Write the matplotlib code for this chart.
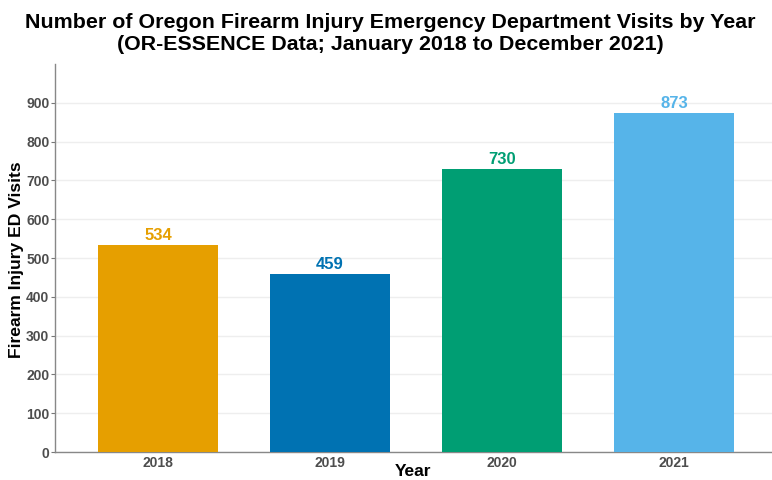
import matplotlib
matplotlib.use("Agg")
import matplotlib.pyplot as plt

years = ["2018", "2019", "2020", "2021"]
visits = [534, 459, 730, 873]
colors = ["#E69F00", "#0072B2", "#009E73", "#56B4E9"]
yticks = [0, 100, 200, 300, 400, 500, 600, 700, 800, 900]

plt.rcParams['font.family'] = ['Liberation Sans', 'DejaVu Sans']

fig = plt.figure(figsize=(7.72, 4.8), dpi=100)
ax = fig.add_axes([55/772, 28/480, 1 - 55/772, 388/480])

x = list(range(len(years)))
ax.bar(x, visits, width=0.7, color=colors, zorder=3)
for xi, v, c in zip(x, visits, colors):
    ax.annotate(str(v), (xi, v), xytext=(0, 1.5), textcoords="offset points",
                ha="center", va="bottom", fontsize=12, fontweight="bold", color=c)

ax.set_xlim(-0.6, 3.57)
ax.set_ylim(0, 1000)
ax.set_yticks(yticks)
ax.set_xticks(x)
ax.set_xticklabels(years)
ax.tick_params(axis="x", length=0, pad=3, labelsize=10, labelcolor="#4d4d4d")
ax.tick_params(axis="y", length=3, width=0.8, color="#777777", pad=1,
               labelsize=10, labelcolor="#4d4d4d")
for lab in ax.get_xticklabels() + ax.get_yticklabels():
    lab.set_fontweight("bold")

ax.grid(axis="y", color="#eeeeee", linewidth=1, zorder=0)
for s in ["top", "right"]:
    ax.spines[s].set_visible(False)
for s in ["left", "bottom"]:
    ax.spines[s].set_color("#888888")
    ax.spines[s].set_linewidth(1)

fig.text(390/772, 1 - 23/480, "Number of Oregon Firearm Injury Emergency Department Visits by Year",
         ha="center", va="center", fontsize=15.4, fontweight="bold")
fig.text(390/772, 1 - 44/480, "(OR-ESSENCE Data; January 2018 to December 2021)",
         ha="center", va="center", fontsize=15.4, fontweight="bold")
fig.text(17/772, 1 - 260/480, "Firearm Injury ED Visits", rotation=90,
         ha="center", va="center", fontsize=12.6, fontweight="bold")
fig.text(413/772, 1 - 472/480, "Year", ha="center", va="center",
         fontsize=12.5, fontweight="bold")

fig.savefig("out.png", dpi=100)
